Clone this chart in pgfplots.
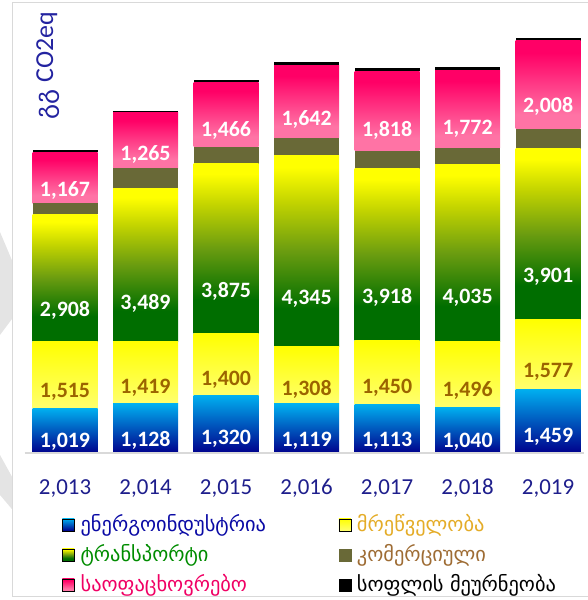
\documentclass[border=0pt]{standalone}
\usepackage{pgfplots}
\pgfplotsset{compat=1.18}
\usepackage{fontspec}
\setmainfont{Carlito}
\newfontfamily\geofont{DejaVu Sans}

\definecolor{enTop}{RGB}{0,176,240}
\definecolor{enBot}{RGB}{0,0,140}
\definecolor{inTop}{RGB}{255,255,0}
\definecolor{inBot}{RGB}{255,255,110}
\definecolor{trTop}{RGB}{255,255,0}
\definecolor{trMidA}{RGB}{195,212,0}
\definecolor{trMidB}{RGB}{106,156,16}
\definecolor{trBot}{RGB}{0,110,0}
\definecolor{coCol}{RGB}{105,105,55}
\definecolor{reTop}{RGB}{255,0,102}
\definecolor{reBot}{RGB}{255,115,165}
\definecolor{indLab}{RGB}{155,100,0}
\definecolor{tickCol}{RGB}{30,30,140}
\definecolor{ylabCol}{RGB}{35,35,160}
\definecolor{lgEn}{RGB}{10,10,165}
\definecolor{lgIn}{RGB}{228,172,40}
\definecolor{lgTr}{RGB}{0,140,0}
\definecolor{lgCo}{RGB}{158,108,52}
\definecolor{lgRe}{RGB}{240,0,100}
\definecolor{frameCol}{RGB}{217,217,217}

\pgfdeclareverticalshading{transp}{100bp}{color(0bp)=(trBot); color(35bp)=(trBot); color(50bp)=(trMidB); color(63bp)=(trMidA); color(72bp)=(trTop); color(100bp)=(trTop)}
\pgfdeclareverticalshading{resid}{100bp}{color(0bp)=(reBot); color(33bp)=(reBot); color(68bp)=(reTop); color(100bp)=(reTop)}

\pgfplotsset{
  base/.style={
    at={(12.7bp,147bp)}, anchor=south west,
    scale only axis, width=571.6bp, height=433bp,
    xmin=-0.65, xmax=6.45, ymin=0, ymax=9872,
  },
  bars/.style={base, hide axis, ybar stacked, bar width=0.807, point meta=rawy,
    /pgf/number format/fixed, /pgf/number format/precision=0,
    /pgf/number format/1000 sep={,}, /pgf/number format/assume math mode=true},
  calcoff/.code={\pgfkeys{/pgf/fpu=true,/pgf/fpu/output format=fixed}%
    \pgfmathsetmacro\myoff{\pgfplotspointmeta*0.01096525}%
    \pgfkeys{/pgf/fpu=false}},
  lab/.style={nodes near coords={\pgfmathprintnumber{\pgfplotspointmeta}},
    every node near coord/.append style={font=\bfseries\fontsize{22}{22}\selectfont,
      text=#1, anchor=center, /pgfplots/calcoff, yshift=-\myoff bp}},
}

% year index, energy, industry, transport, commercial, residential, agriculture
\newcommand\yearbar[7]{%
\begin{axis}[bars]
\addplot[draw=none, top color=enTop, bottom color=enBot, lab=white] coordinates {(#1,#2)};
\addplot[draw=none, top color=inTop, bottom color=inBot, lab=indLab] coordinates {(#1,#3)};
\addplot[draw=none, shade, shading=transp, lab=white] coordinates {(#1,#4)};
\addplot[draw=none, fill=coCol] coordinates {(#1,#5)};
\addplot[draw=none, shade, shading=resid, lab=white] coordinates {(#1,#6)};
\addplot[draw=none, fill=black] coordinates {(#1,#7)};
\end{axis}}

\begin{document}
\begin{tikzpicture}
\path[use as bounding box] (0,0) rectangle (588bp,600bp);
% background decoration
\fill[frameCol!70] (0bp,368bp) -- (12.7bp,338bp) -- (12.7bp,282bp) -- (0bp,265bp) -- cycle;
\fill[frameCol!70] (0bp,145bp) -- (12.7bp,122bp) -- (12.7bp,90bp) -- (0bp,105bp) -- cycle;
\draw[frameCol, line width=1bp] (620bp,3bp) -- (12.7bp,3bp) -- (12.7bp,597bp) -- (620bp,597bp);

\yearbar{0}{1019}{1515}{2908}{250}{1167}{45}
\yearbar{1}{1128}{1419}{3489}{456}{1265}{45}
\yearbar{2}{1320}{1400}{3875}{388}{1466}{45}
\yearbar{3}{1119}{1308}{4345}{410}{1642}{90}
\yearbar{4}{1113}{1450}{3918}{410}{1818}{68}
\yearbar{5}{1040}{1496}{4035}{388}{1772}{68}
\yearbar{6}{1459}{1577}{3901}{456}{2008}{68}

\begin{axis}[base, axis x line*=bottom, axis y line=none,
  x axis line style={draw=frameCol, line width=1.5bp, -, shorten <=12bp},
  xtick={0,...,6}, xticklabels={{2,013},{2,014},{2,015},{2,016},{2,017},{2,018},{2,019}},
  major tick length=0pt,
  xticklabel style={font=\fontsize{23}{23}\selectfont, text=tickCol, inner sep=0pt, yshift=-26bp},
  legend columns=2, legend cell align=left,
  legend style={at={(0.08625,-0.1409)}, anchor=north west, draw=none, fill=none,
    inner sep=0pt, column sep=0pt, row sep=7bp,
    font=\geofont\fontsize{20.5}{24}\selectfont,
    nodes={inner sep=0pt, text height=17bp, text depth=6bp}},
]
\addlegendimage{legend image code/.code={\fill[top color=enTop, bottom color=enBot] (0bp,-5bp) rectangle (12bp,7bp); \path (18bp,0bp);}}
\addlegendentry{\makebox[258bp][l]{\textcolor{lgEn}{ენერგოინდუსტრია}}}
\addlegendimage{legend image code/.code={\fill[top color=inTop, bottom color=inBot] (0bp,-5bp) rectangle (12bp,7bp); \path (18bp,0bp);}}
\addlegendentry{\textcolor{lgIn}{მრეწველობა}}
\addlegendimage{legend image code/.code={\fill[shading=transp] (0bp,-5bp) rectangle (12bp,7bp); \path (18bp,0bp);}}
\addlegendentry{\makebox[258bp][l]{\textcolor{lgTr}{ტრანსპორტი}}}
\addlegendimage{legend image code/.code={\fill[coCol] (0bp,-5bp) rectangle (12bp,7bp); \path (18bp,0bp);}}
\addlegendentry{\textcolor{lgCo}{კომერციული}}
\addlegendimage{legend image code/.code={\fill[shading=resid] (0bp,-5bp) rectangle (12bp,7bp); \path (18bp,0bp);}}
\addlegendentry{\makebox[258bp][l]{\textcolor{lgRe}{საოფაცხოვრებო}}}
\addlegendimage{legend image code/.code={\fill[black] (0bp,-5bp) rectangle (12bp,7bp); \path (18bp,0bp);}}
\addlegendentry{\textcolor{black}{სოფლის მეურნეობა}}
\end{axis}

\node[rotate=90, text=ylabCol, inner sep=0pt, anchor=base east] at (53bp,588bp)
  {{\geofont\fontsize{26}{26}\selectfont გგ}\hspace{7bp}{\fontsize{26}{26}\selectfont CO2eq}};
\end{tikzpicture}
\end{document}
